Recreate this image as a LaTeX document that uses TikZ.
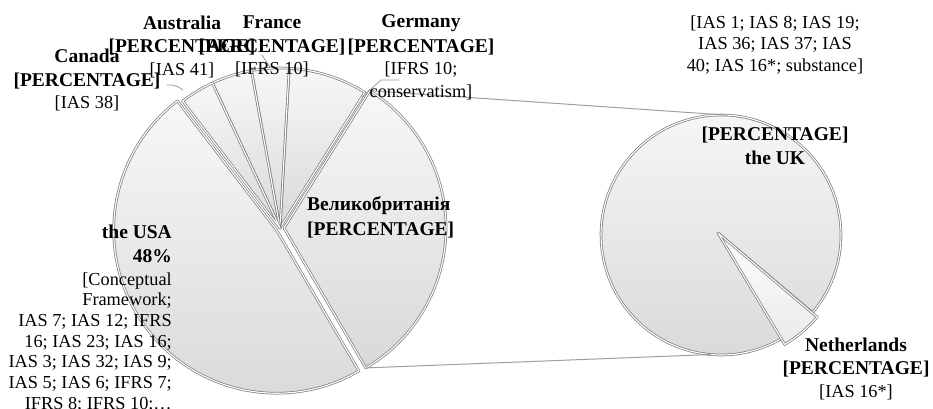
\documentclass[tikz,border=0pt]{standalone}
\usepackage{fontspec}
\setmainfont{Liberation Serif}
\usetikzlibrary{calc}
\newcommand\boldlbl[1]{{\fontsize{19.5}{22.5}\selectfont\bfseries #1}}
\begin{document}
\begin{tikzpicture}[x=1pt,y=1pt,
  piece/.style={top color=gray!6, bottom color=gray!30, draw=gray, line width=0.75pt, double=white, double distance=1.1pt, line join=round},
  lightpiece/.style={piece, top color=gray!2, bottom color=gray!16},
  series/.style={draw=gray!75, line width=1pt},
  leader/.style={draw=gray!80, line width=0.8pt},
  lbl/.style={inner sep=0pt, align=center, text=black, font=\fontsize{18.3}{22.5}\selectfont}]
\useasboundingbox (0,0) rectangle (933,409);
% left pie
\coordinate (O) at (280,181);
\coordinate (Vusa) at ($(O)+(213.9:4)$);
\coordinate (Vuk) at ($(O)+(-0.85:4)$);
\draw[piece] (Vusa) -- ($(Vusa)+(127.5:163)$) arc[start angle=127.5, end angle=300.3, radius=163] -- cycle;
\draw[piece] (Vuk) -- ($(Vuk)+(-59.7:162)$) arc[start angle=-59.7, end angle=58, radius=162] -- cycle;
\draw[piece] (O) -- ($(O)+(58:160)$) arc[start angle=58, end angle=86.7, radius=160] -- cycle;
\draw[piece] (O) -- ($(O)+(86.7:160)$) arc[start angle=86.7, end angle=100.3, radius=160] -- cycle;
\draw[piece] (O) -- ($(O)+(100.3:160)$) arc[start angle=100.3, end angle=115, radius=160] -- cycle;
\draw[piece] (O) -- ($(O)+(115:160)$) arc[start angle=115, end angle=127.5, radius=160] -- cycle;
\coordinate (ukTop) at ($(Vuk)+(58:162)$);
\coordinate (ukBot) at ($(Vuk)+(-59.7:162)$);
% right pie
\coordinate (C2) at (721,174);
\coordinate (V2) at (718,176);
\draw[piece] (V2) -- ($(C2)+(-40.3:120)$) arc[start angle=-40.3, end angle=300.9, radius=120] -- cycle;
\draw[lightpiece] (V2) -- ($(V2)+(-59.1:130)$) arc[start angle=-59.1, end angle=-40.3, radius=130] -- cycle;
\coordinate (r2Top) at ($(C2)+(87:120)$);
\coordinate (r2Bot) at ($(C2)+(265:120)$);
\draw[series] (ukTop) -- (r2Top);
\draw[series] (ukBot) -- (r2Bot);
% leaders
\coordinate (cl1) at (167,324);
\coordinate (cl2) at (183,319);
\draw[leader] (cl1) to[bend left=20] (cl2);
\coordinate (fl1) at (262,354);
\coordinate (fl2) at (270,342);
\draw[leader] (fl1) -- (fl2);
\coordinate (gl1) at (362,312);
\coordinate (gl2) at (381,329);
\coordinate (gl3) at (399,329);
\draw[leader] (gl1) -- (gl2) -- (gl3);
% labels
\node[lbl] (canada) at (87,329) {\boldlbl{Canada}\\[1pt]\boldlbl{[PERCENTAGE]}\\{}[IAS 38]};
\node[lbl] (australia) at (182,362.5) {\boldlbl{Australia}\\[1pt]\boldlbl{[PERCENTAGE]}\\{}[IAS 41]};
\node[lbl] (france) at (272,362.5) {\boldlbl{France}\\[1pt]\boldlbl{[PERCENTAGE]}\\{}[IFRS 10]};
\node[lbl] (germany) at (421,351.5) {\boldlbl{Germany}\\[2pt]\boldlbl{[PERCENTAGE]}\\{}[IFRS 10;\\conservatism]};
\node[lbl, font=\fontsize{18.3}{21.5}\selectfont] (ukref) at (775,364) {[IAS 1; IAS 8; IAS 19;\\IAS 36; IAS 37; IAS\\40; IAS 16*; substance]};
\node[lbl, anchor=north east, align=right, font=\fontsize{18.3}{20.7}\selectfont] (usa) at (172,184) {\boldlbl{the USA}\\[3pt]\boldlbl{48\%}\\[2pt]{}[Conceptual\\Framework;\\IAS 7; IAS 12; IFRS\\16; IAS 23; IAS 16;\\IAS 3; IAS 32; IAS 9;\\IAS 5; IAS 6; IFRS 7;\\IFRS 8; IFRS 10;…};
\node[lbl, anchor=west, align=left] (gb) at (307,191.5) {\boldlbl{Великобританія}\\[2pt]\boldlbl{[PERCENTAGE]}};
\node[lbl] (ukright) at (775,263) {\boldlbl{[PERCENTAGE]}\\[2pt]\boldlbl{the UK}};
\node[lbl] (nl) at (856,40.5) {\boldlbl{Netherlands}\\[1pt]\boldlbl{[PERCENTAGE]}\\{}[IAS 16*]};
\end{tikzpicture}
\end{document}
